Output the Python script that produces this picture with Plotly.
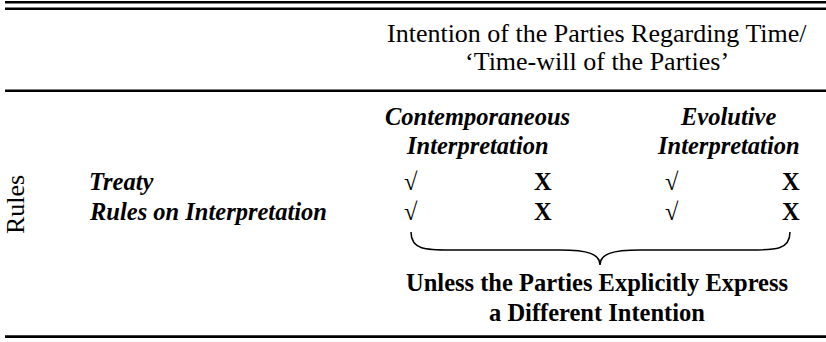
import plotly.graph_objects as go

# ---- content ----
header_lines = ["Intention of the Parties Regarding Time/", "\u2018Time-will of the Parties\u2019"]
column_groups = [["Contemporaneous", "Interpretation"], ["Evolutive", "Interpretation"]]
row_labels = ["Treaty", "Rules on Interpretation"]
side_label = "Rules"
marks = [["\u221a", "X", "\u221a", "X"],
         ["\u221a", "X", "\u221a", "X"]]
footer_lines = ["Unless the Parties Explicitly Express", "a Different Intention"]

# ---- layout (pixel space) ----
W, H = 826, 342
FONT = "Liberation Serif"
REG, BOLD = 26, 24.5
header_x, header_y = [597, 597], [33, 61]
group_x, group_y = [477, 728], [116, 145]
mark_x = [411, 543, 672, 791]
row_y = [181, 211]
row_label_x = 87
footer_x, footer_y = 597, [282, 312]
rules_y = [2.2, 8.8, 90.8, 336.6]

fig = go.Figure()
fig.add_trace(go.Scatter(x=[0, W], y=[0, H], mode="markers",
                         marker=dict(opacity=0), hoverinfo="skip", showlegend=False))

ann = []
for t, y in zip(header_lines, header_y):
    ann.append(dict(x=header_x[0], y=y, text=t, font=dict(family=FONT, size=REG, color="black"),
                    xanchor="center", yanchor="middle"))
for gx, lines in zip(group_x, column_groups):
    for t, y in zip(lines, group_y):
        ann.append(dict(x=gx, y=y, text=f"<b><i>{t}</i></b>", font=dict(family=FONT, size=BOLD, color="black"),
                        xanchor="center", yanchor="middle"))
for lbl, ry, row in zip(row_labels, row_y, marks):
    ann.append(dict(x=row_label_x, y=ry, text=f"<b><i>{lbl}</i></b>", font=dict(family=FONT, size=BOLD, color="black"),
                    xanchor="left", yanchor="middle"))
    for mx, m in zip(mark_x, row):
        txt = f"<b>{m}</b>" if m == "X" else m
        ann.append(dict(x=mx, y=ry, text=txt, font=dict(family=FONT, size=BOLD, color="black"),
                        xanchor="center", yanchor="middle"))
for t, y in zip(footer_lines, footer_y):
    ann.append(dict(x=footer_x, y=y, text=f"<b>{t}</b>", font=dict(family=FONT, size=BOLD, color="black"),
                    xanchor="center", yanchor="middle"))
ann.append(dict(x=15, y=205, text=side_label, textangle=-90, font=dict(family=FONT, size=REG, color="black"),
                xanchor="center", yanchor="middle"))
for a in ann:
    a.update(xref="x", yref="y", showarrow=False)

shapes = []
for ry in rules_y:
    shapes.append(dict(type="line", xref="x", yref="y", x0=5, x1=W, y0=ry, y1=ry,
                       line=dict(color="black", width=2.6)))
# curly brace under the mark columns
bl, br, bm = 411, 790, 600
top, mid, tip = 232, 250, 265
brace = (f"M {bl},{top} C {bl},{mid} {bl+15},{mid} {bl+40},{mid} "
         f"L {bm-40},{mid} C {bm-12},{mid} {bm},{mid+4} {bm},{tip} "
         f"C {bm},{mid+4} {bm+12},{mid} {bm+40},{mid} "
         f"L {br-40},{mid} C {br-15},{mid} {br},{mid} {br},{top}")
shapes.append(dict(type="path", xref="x", yref="y", path=brace, line=dict(color="black", width=1.5)))

fig.update_layout(width=W, height=H, margin=dict(l=0, r=0, t=0, b=0),
                  paper_bgcolor="white", plot_bgcolor="white",
                  annotations=ann, shapes=shapes,
                  xaxis=dict(range=[0, W], visible=False, fixedrange=True),
                  yaxis=dict(range=[H, 0], visible=False, fixedrange=True))
fig.write_html("out.html", config={"displayModeBar": False},
               post_script="document.body.style.margin='0';document.body.style.overflow='hidden';")
